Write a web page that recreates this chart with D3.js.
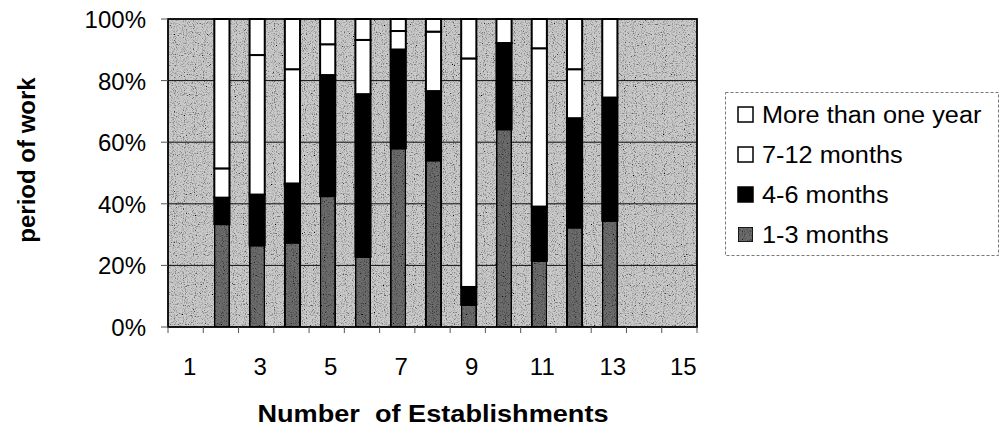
<!DOCTYPE html>
<html>
<head>
<meta charset="utf-8">
<script src="https://cdn.jsdelivr.net/npm/d3@7"></script>
<style>
  body { margin: 0; background: #fff; }
  text { font-family: "Liberation Sans", Arial, sans-serif; fill: #000; }
</style>
</head>
<body>
<svg width="1002" height="433"></svg>
<script>
// data (percent of each bar)
const categories = [1, 2, 3, 4, 5, 6, 7, 8, 9, 10, 11, 12, 13, 14, 15]
const oneToThree    = [0, 33.4, 26.5, 27.4, 42.5, 22.8, 58.0, 54.1, 7.2, 64.2, 21.5, 32.3, 34.5, 0, 0]
const fourToSix     = [0, 8.6, 16.5, 19.2, 39.3, 52.8, 32.1, 22.5, 5.8, 28.0, 17.6, 35.5, 40.0, 0, 0]
const sevenToTwelve = [0, 9.5, 45.3, 37.1, 10.0, 17.6, 6.0, 19.3, 74.2, 0, 51.4, 15.9, 0, 0, 0]
const moreThanYear  = [0, 48.5, 11.7, 16.3, 8.2, 6.8, 3.9, 4.1, 12.8, 7.8, 9.5, 16.3, 25.5, 0, 0]
const seriesNames = ['1-3 months', '4-6 months', '7-12 months', 'More than one year']
const xTickLabels = [1, 3, 5, 7, 9, 11, 13, 15]
const yTicks = [0, 20, 40, 60, 80, 100]

const svg = d3.select('svg')
const plot = { left: 168, right: 697, top: 19, bottom: 327 }

// grain filter to mimic the stippled print
const defs = svg.append('defs')
const grain = defs.append('filter').attr('id', 'grain')
    .attr('x', 0).attr('y', 0).attr('width', '100%').attr('height', '100%')
grain.append('feTurbulence').attr('type', 'fractalNoise')
    .attr('baseFrequency', 0.9).attr('numOctaves', 1).attr('seed', 7).attr('result', 'n')
grain.append('feColorMatrix').attr('in', 'n').attr('type', 'matrix')
    .attr('values', '2 2 0 0 -1.05  2 2 0 0 -1.05  2 2 0 0 -1.05  0 0 0 0 1')
    .attr('result', 'g')
grain.append('feBlend').attr('in', 'SourceGraphic').attr('in2', 'g').attr('mode', 'multiply').attr('result', 'b')
grain.append('feComposite').attr('in', 'b').attr('in2', 'SourceGraphic').attr('operator', 'in')

const x = d3.scaleBand().domain(categories).range([plot.left, plot.right])
const y = d3.scaleLinear().domain([0, 100]).range([plot.bottom, plot.top])

// stretch text horizontally a little, like the scanned original
function stretch(sel, k) {
    sel.each(function() {
        const len = this.getComputedTextLength()
        d3.select(this).attr('textLength', len * k).attr('lengthAdjust', 'spacingAndGlyphs')
    })
}

// plot background
svg.append('rect')
    .attr('x', plot.left).attr('y', plot.top)
    .attr('width', plot.right - plot.left).attr('height', plot.bottom - plot.top)
    .attr('fill', '#cacaca')
    .attr('filter', 'url(#grain)')

// gridlines
svg.append('g').selectAll('line').data(yTicks.slice(1, -1)).join('line')
    .attr('x1', plot.left).attr('x2', plot.right)
    .attr('y1', d => y(d)).attr('y2', d => y(d))
    .attr('stroke', '#111').attr('stroke-width', 1)

// stacked bars
const table = categories.map((c, i) => ({
    cat: c,
    '1-3 months': oneToThree[i],
    '4-6 months': fourToSix[i],
    '7-12 months': sevenToTwelve[i],
    'More than one year': moreThanYear[i]
}))
const stacked = d3.stack().keys(seriesNames)(table)
const fills = { '1-3 months': '#6c6c6c', '4-6 months': '#000', '7-12 months': '#fff', 'More than one year': '#fff' }
const barW = x.bandwidth() * 0.43

svg.append('g').selectAll('g').data(stacked).join('g')
    .each(function(s) {
        d3.select(this).selectAll('rect')
            .data(s.filter(d => d[1] - d[0] > 0))
            .join('rect')
                .attr('x', d => x(d.data.cat) + (x.bandwidth() - barW) / 2 + 1)
                .attr('y', d => y(d[1]))
                .attr('width', barW)
                .attr('height', d => y(d[0]) - y(d[1]))
                .attr('fill', fills[s.key])
                .attr('stroke', '#000').attr('stroke-width', 2)
                .attr('filter', s.key === '1-3 months' ? 'url(#grain)' : null)
    })

// plot border
svg.append('rect')
    .attr('x', plot.left).attr('y', plot.top)
    .attr('width', plot.right - plot.left).attr('height', plot.bottom - plot.top)
    .attr('fill', 'none').attr('stroke', '#000').attr('stroke-width', 1.8)

// y axis
const yAxis = svg.append('g')
yAxis.selectAll('line').data(yTicks).join('line')
    .attr('x1', plot.left - 7).attr('x2', plot.left)
    .attr('y1', d => y(d)).attr('y2', d => y(d))
    .attr('stroke', '#555').attr('stroke-width', 1)
yAxis.selectAll('text').data(yTicks).join('text')
    .attr('x', 146).attr('y', d => y(d) + 9)
    .attr('text-anchor', 'end')
    .attr('font-size', 24)
    .text(d => d + '%')

// x axis: ticks between categories
const xAxis = svg.append('g')
xAxis.selectAll('line').data(d3.range(categories.length + 1)).join('line')
    .attr('x1', d => plot.left + d * x.step()).attr('x2', d => plot.left + d * x.step())
    .attr('y1', plot.bottom).attr('y2', plot.bottom + 6)
    .attr('stroke', '#555').attr('stroke-width', 1)
xAxis.selectAll('text').data(xTickLabels).join('text')
    .attr('x', d => x(d) + x.bandwidth() / 2 + 4)
    .attr('y', 375)
    .attr('text-anchor', 'middle')
    .attr('font-size', 24)
    .text(d => d)

// axis titles
svg.append('text')
    .attr('x', 433).attr('y', 422)
    .attr('text-anchor', 'middle')
    .attr('font-size', 24).attr('font-weight', 'bold')
    .attr('xml:space', 'preserve')
    .style('white-space', 'pre')
    .text('Number  of Establishments')
    .call(stretch, 1.13)

svg.append('text')
    .attr('transform', 'translate(35,160) rotate(-90)')
    .attr('text-anchor', 'middle')
    .attr('font-size', 24).attr('font-weight', 'bold')
    .text('period of work')

// legend
const legend = svg.append('g')
legend.append('rect')
    .attr('x', 725.5).attr('y', 92.5).attr('width', 273).attr('height', 163)
    .attr('fill', '#fff').attr('stroke', '#777').attr('stroke-width', 1)
    .attr('stroke-dasharray', '3,2')

const legendOrder = seriesNames.slice().reverse()
const item = legend.selectAll('g.item').data(legendOrder).join('g')
    .attr('class', 'item')
    .attr('transform', (d, i) => `translate(738, ${107 + i * 40})`)
item.append('rect')
    .attr('width', 15).attr('height', 15)
    .attr('fill', d => fills[d])
    .attr('stroke', '#000').attr('stroke-width', 1.5)
    .attr('filter', d => d === '1-3 months' ? 'url(#grain)' : null)
item.append('text')
    .attr('x', 24).attr('y', 16)
    .attr('font-size', 23)
    .text(d => d)
    .call(stretch, 1.1)
</script>
</body>
</html>
